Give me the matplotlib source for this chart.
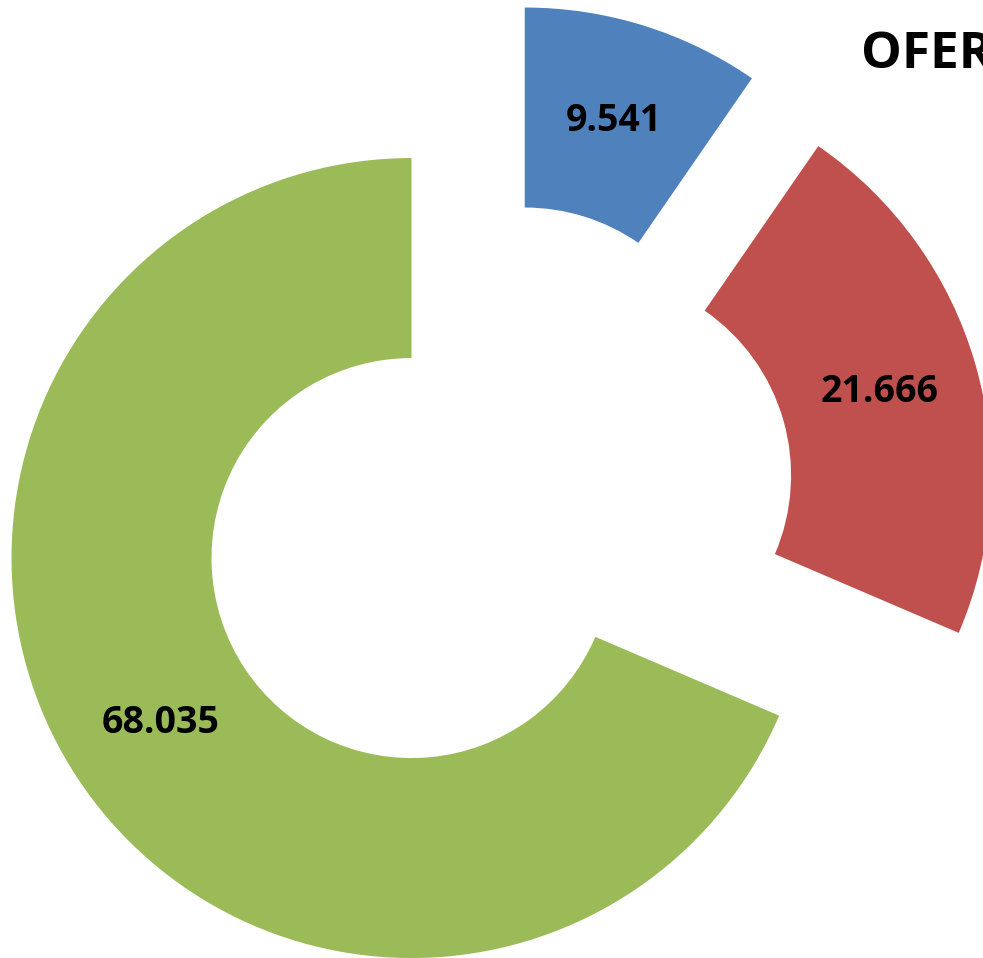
import matplotlib.pyplot as plt

# Data
labels = ['A', 'B', 'C']
values = [9.541, 21.666, 68.035]
colors = ['#4F81BD', '#C0504D', '#9BBB59']
title = 'OFERTA'

total = sum(values)

fig = plt.figure(figsize=(9.83, 9.58), dpi=100)
ax = fig.add_axes([0, 0, 1, 1])

# donut, every wedge pulled out a bit
ax.pie(values, colors=colors, startangle=90, counterclock=False,
       explode=[0.25] * len(values), radius=1.0,
       wedgeprops=dict(width=0.5, linewidth=0),
       autopct=lambda p: '%.3f' % (p * total / 100.0), pctdistance=0.75,
       textprops=dict(fontsize=27, fontweight='bold', color='black',
                      family='Open Sans'))

# pixel scale: 400 px per unit, centre at (495, 503) from top-left
ax.set_xlim(-495 / 400, (983 - 495) / 400)
ax.set_ylim(-(958 - 503) / 400, 503 / 400)
ax.set_aspect('equal')
ax.axis('off')

# title runs off the right edge, as in the original
fig.text(861 / 983, 1 - 55 / 958, title, fontsize=37, fontweight='bold',
         family='Open Sans', ha='left', va='center')

fig.savefig('out.png', dpi=100)
